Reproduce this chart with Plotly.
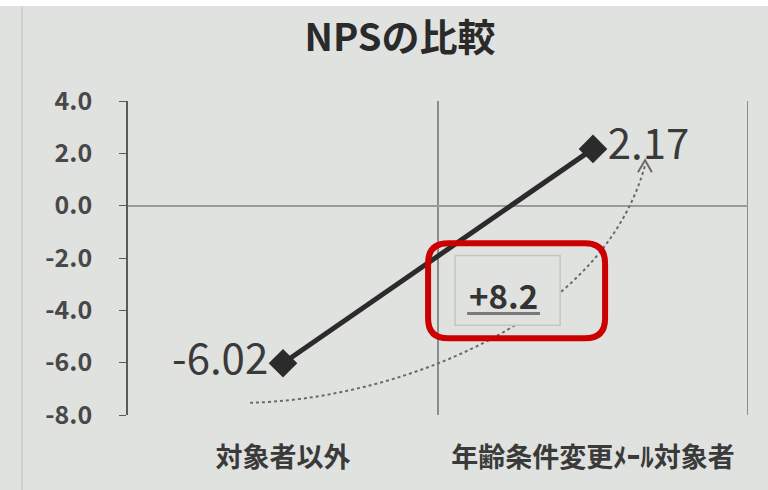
import plotly.graph_objects as go

# Chart data
categories = ["対象者以外", "年齢条件変更ﾒｰﾙ対象者"]
nps_values = [-6.02, 2.17]
y_ticks = [4.0, 2.0, 0.0, -2.0, -4.0, -6.0, -8.0]

FONT = "Noto Sans CJK JP"
INK = "#2b2b2b"
BG = "#e0e2df"

x_pos = list(range(len(categories)))
diff = nps_values[1] - nps_values[0]

fig = go.Figure()

fig.add_trace(go.Scatter(
    x=x_pos,
    y=nps_values,
    mode="lines+markers+text",
    line=dict(color=INK, width=5),
    marker=dict(symbol="diamond", size=22, color=INK),
    text=[f"{v:.2f}" for v in nps_values],
    textposition=["middle left", "middle right"],
    textfont=dict(family=FONT, size=42, color="#3a3a3a"),
    hoverinfo="skip",
    showlegend=False,
    cliponaxis=False,
))

shapes = []
# top white strip and faint frame line of the page
shapes.append(dict(type="rect", xref="paper", yref="paper", x0=-0.21, x1=1.04,
                   y0=1.3025, y1=1.33, fillcolor="white", line=dict(width=0), layer="below"))
shapes.append(dict(type="line", xref="paper", yref="paper", x0=-0.171, x1=-0.171,
                   y0=-0.25, y1=1.3, line=dict(color="#cdd0cd", width=2), layer="below"))
# category separators / right border
for xv in (0.5, 1.5):
    shapes.append(dict(type="line", xref="x", yref="paper", x0=xv, x1=xv, y0=0, y1=1,
                       line=dict(color="#707070", width=1.5), layer="below"))

# dashed curved arrow from the first point to the second
shapes.append(dict(type="path",
                   path="M -0.106,-7.53 C 0.313,-7.44 1.023,-4.76 1.168,1.55",
                   line=dict(color="#6a6a6a", width=2, dash="dot"), layer="above"))
shapes.append(dict(type="path",
                   path="M 1.145,1.28 L 1.168,1.74 L 1.19,1.28",
                   line=dict(color="#6a6a6a", width=2)))

# faint box behind the difference label
shapes.append(dict(type="rect", x0=0.555, x1=0.894, y0=-4.57, y1=-1.9,
                   line=dict(color="#c4c6c3", width=1.5), fillcolor=BG))
# underline of the difference label
shapes.append(dict(type="line", x0=0.594, x1=0.829, y0=-4.12, y1=-4.12,
                   line=dict(color="#7a7a7a", width=3)))

# red rounded highlight frame
x0, x1, yt, yb = 0.468, 1.039, -1.44, -5.07
rx, ry = 0.065, 0.76
red_path = (f"M {x0+rx},{yt} L {x1-rx},{yt} Q {x1},{yt} {x1},{yt-ry} "
            f"L {x1},{yb+ry} Q {x1},{yb} {x1-rx},{yb} "
            f"L {x0+rx},{yb} Q {x0},{yb} {x0},{yb+ry} "
            f"L {x0},{yt-ry} Q {x0},{yt} {x0+rx},{yt} Z")
shapes.append(dict(type="path", path=red_path, line=dict(color="#cc0000", width=6)))

annotations = [
    dict(x=0.71, y=-3.4, xref="x", yref="y", text=f"<b>+{diff:.1f}</b>", showarrow=False,
         font=dict(family=FONT, size=33, color="#333333")),
]

fig.update_layout(
    width=768, height=490,
    margin=dict(l=128, r=20, t=101, b=75),
    paper_bgcolor=BG,
    plot_bgcolor=BG,
    title=dict(text="<b>NPSの比較</b>", x=400 / 768, xanchor="center",
               y=1 - 38 / 490, yanchor="middle", yref="container",
               font=dict(family=FONT, size=38, color="#2a2a2a")),
    xaxis=dict(range=[-0.5, 1.5], tickvals=x_pos, ticktext=[f"<b>{c}</b>" for c in categories],
               showgrid=False, zeroline=False, showline=False, ticks="",
               ticklabelstandoff=24,
               tickfont=dict(family=FONT, size=27, color="#3a3a3a")),
    yaxis=dict(range=[-8, 4], tickvals=y_ticks, ticktext=[f"<b>{v:.1f}</b>" for v in y_ticks],
               showgrid=False, zeroline=True, zerolinecolor="#9a9a9a", zerolinewidth=2,
               showline=True, linecolor="#5a5a5a", linewidth=1.5,
               ticks="outside", ticklen=7, tickcolor="#5a5a5a",
               ticklabelstandoff=22,
               tickfont=dict(family=FONT, size=25, color="#484848")),
    shapes=shapes,
    annotations=annotations,
)

fig.write_html("out.html")
